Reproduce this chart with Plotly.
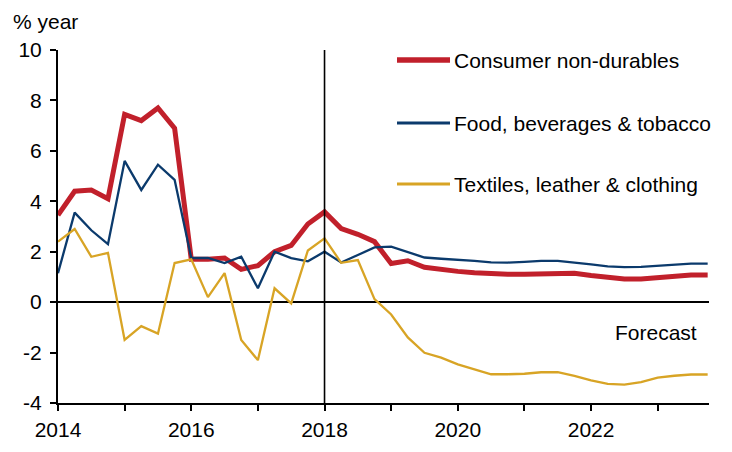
import plotly.graph_objects as go

# ---- data (quarterly, % year) ----
start_year = 2014
n_quarters = 40
quarters = [start_year + i * 0.25 for i in range(n_quarters)]

consumer_nondurables = [
    3.45, 4.40, 4.45, 4.10, 7.45, 7.20, 7.70, 6.90,
    1.70, 1.70, 1.75, 1.30, 1.45, 2.00, 2.25, 3.10,
    3.58, 2.92, 2.69, 2.40, 1.53, 1.64, 1.38, 1.28,
    1.22, 1.17, 1.12, 1.11, 1.11, 1.13, 1.15, 1.15,
    1.06, 1.00, 0.92, 0.92, 0.98, 1.05, 1.08, 1.08,
]
food_bev_tobacco = [
    1.15, 3.55, 2.85, 2.30, 5.60, 4.45, 5.45, 4.85,
    1.75, 1.75, 1.55, 1.80, 0.55, 2.00, 1.75, 1.62,
    2.00, 1.57, 1.87, 2.17, 2.20, 1.97, 1.77, 1.72,
    1.69, 1.64, 1.58, 1.57, 1.60, 1.64, 1.64, 1.58,
    1.50, 1.42, 1.39, 1.40, 1.45, 1.50, 1.53, 1.53,
]
textiles_leather_clothing = [
    2.40, 2.90, 1.80, 1.95, -1.50, -0.95, -1.25, 1.55,
    1.70, 0.20, 1.15, -1.50, -2.30, 0.55, -0.05, 2.05,
    2.53, 1.56, 1.67, 0.12, -0.49, -1.40, -2.01, -2.20,
    -2.47, -2.68, -2.86, -2.86, -2.84, -2.78, -2.78, -2.92,
    -3.10, -3.24, -3.27, -3.17, -2.99, -2.92, -2.87, -2.87,
]

series_names = ["Consumer non-durables", "Food, beverages & tobacco", "Textiles, leather & clothing"]
series_values = [consumer_nondurables, food_bev_tobacco, textiles_leather_clothing]

x_tick_values = list(range(2014, 2024))
x_tick_labels = [str(y) if y % 2 == 0 else "" for y in x_tick_values]
y_tick_values = [-4, -2, 0, 2, 4, 6, 8, 10]
y_tick_labels = ["-4", "-2", "0", "2", "4", "6", "8", "10"]
forecast_start = 2018
y_unit_label = "% year"
forecast_label = "Forecast"

# ---- styling ----
colors = ["#C1202B", "#0B3A6C", "#D8A425"]
widths = [5, 2.3, 2.3]
FONT = "Liberation Sans, Arial, sans-serif"
FS = 21

# page has an 8px body margin; figure sized to fit the 732x452 window
OFF = 8
W, H = 732 - OFF, 452 - OFF
plot_left, plot_right, plot_top, plot_bottom = 58, 709, 50, 403  # page pixels
L = plot_left - OFF
R = W - (plot_right - OFF)
T = plot_top - OFF
B = H - (plot_bottom - OFF)
pw, ph = W - L - R, H - T - B


def px_to_paper(px, py):
    return (px - plot_left) / pw, 1 - (py - plot_top) / ph


fig = go.Figure()
for name, vals, c, w in zip(series_names, series_values, colors, widths):
    fig.add_trace(go.Scatter(
        x=quarters, y=vals, mode="lines", name=name,
        line=dict(color=c, width=w), showlegend=False,
    ))

# vertical forecast divider
fig.add_shape(type="line", xref="x", yref="y", x0=forecast_start, x1=forecast_start,
              y0=-4, y1=10.12, line=dict(color="black", width=1.6), layer="above")

# manual legend (line samples + labels)
legend_y_px = [60, 123, 184]
for name, c, w, ly in zip(series_names, colors, widths, legend_y_px):
    x0, y0 = px_to_paper(397, ly)
    x1, _ = px_to_paper(450, ly)
    fig.add_shape(type="line", xref="paper", yref="paper", x0=x0, x1=x1, y0=y0, y1=y0,
                  line=dict(color=c, width=w + 0.5))
    tx, ty = px_to_paper(452, ly)
    fig.add_annotation(xref="paper", yref="paper", x=tx, y=ty, text=name,
                       showarrow=False, xanchor="left", yanchor="middle",
                       font=dict(family=FONT, size=FS, color="black"))

ax, ay = px_to_paper(11, 22)
fig.add_annotation(xref="paper", yref="paper", x=ax, y=ay, text=y_unit_label,
                   showarrow=False, xanchor="left", yanchor="middle",
                   font=dict(family=FONT, size=FS, color="black"))
fx, fy = px_to_paper(699, 332)
fig.add_annotation(xref="paper", yref="paper", x=fx, y=fy, text=forecast_label,
                   showarrow=False, xanchor="right", yanchor="middle",
                   font=dict(family=FONT, size=FS, color="black"))

fig.update_layout(
    width=W, height=H,
    margin=dict(l=L, r=R, t=T, b=B, pad=0, autoexpand=False),
    paper_bgcolor="white", plot_bgcolor="white",
    font=dict(family=FONT, size=FS, color="black"),
    showlegend=False,
    xaxis=dict(range=[2014, 2023.77], tickmode="array", tickvals=x_tick_values,
               ticktext=x_tick_labels, showgrid=False, zeroline=False, automargin=False,
               showline=True, linecolor="black", linewidth=2,
               ticks="outside", ticklen=6, tickwidth=2, tickcolor="black",
               ticklabelstandoff=1),
    yaxis=dict(range=[-4, 10], tickmode="array", tickvals=y_tick_values,
               ticktext=y_tick_labels, automargin=False,
               showgrid=False, zeroline=True, zerolinecolor="black", zerolinewidth=2,
               showline=True, linecolor="black", linewidth=2,
               ticks="outside", ticklen=6, tickwidth=2, tickcolor="black",
               ticklabelstandoff=4),
)

fig.write_html("out.html")
